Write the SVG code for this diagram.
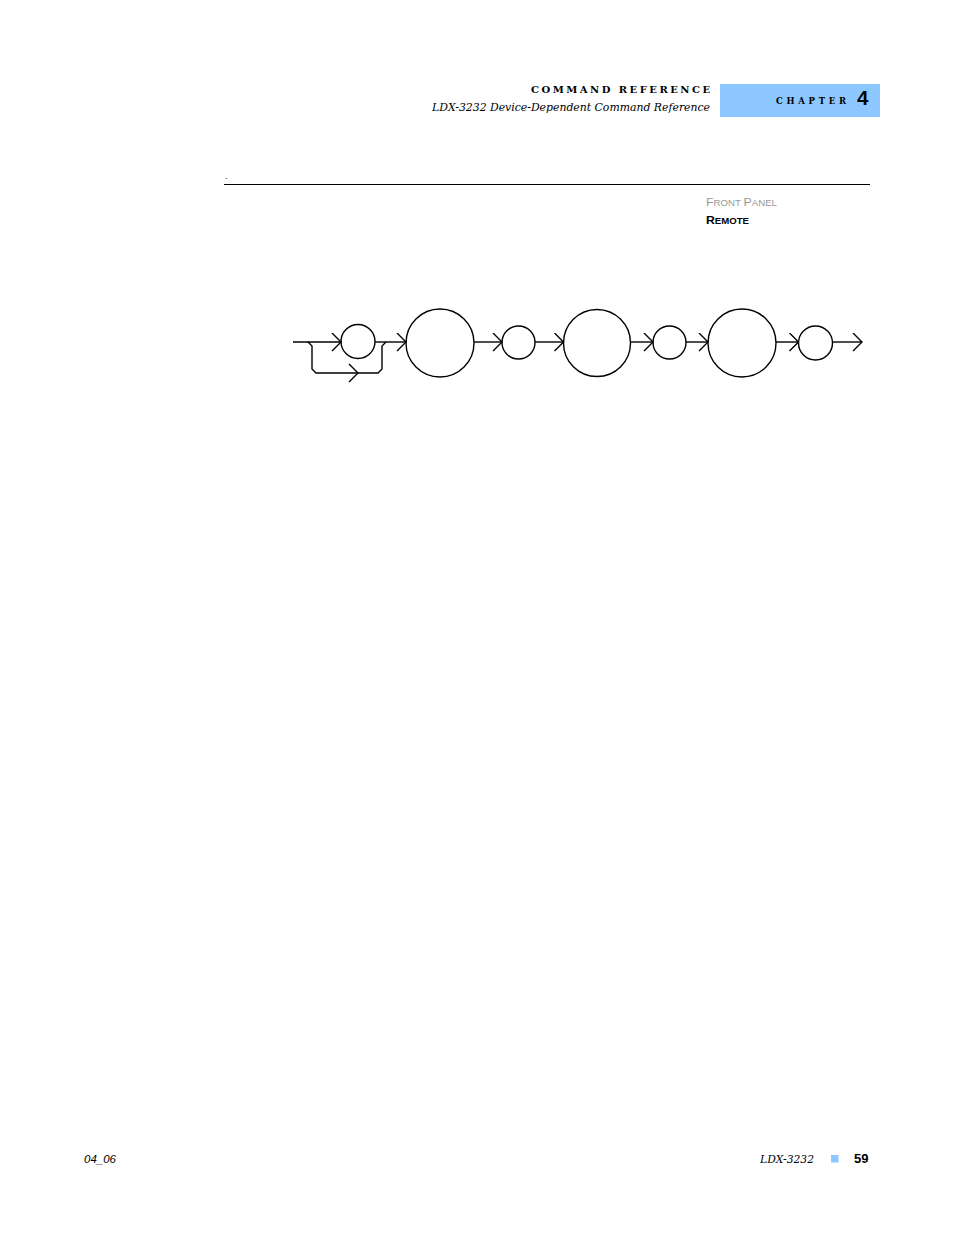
<svg xmlns="http://www.w3.org/2000/svg" width="954" height="1235" viewBox="0 0 954 1235">
<style>
.node{fill:none;stroke:#000;stroke-width:1.4}
.conn{fill:none;stroke:#000;stroke-width:1.4}
.hd{font-family:"DejaVu Serif","Liberation Serif",serif;font-weight:bold}
.it{font-family:"DejaVu Serif","Liberation Serif",serif;font-style:italic}
.sc{font-family:"Liberation Sans",Arial,sans-serif}
</style>
<defs>
<marker id="arr" markerUnits="userSpaceOnUse" markerWidth="12" markerHeight="20" refX="10" refY="9.5" orient="auto" viewBox="0 0 12 20">
<path d="M1,0.5 L10,9.5 L1,18.5" fill="none" stroke="#000" stroke-width="1.4"/>
</marker>
</defs>
<rect width="954" height="1235" fill="#fff"/>
<!-- header -->
<text class="hd" x="531" y="93" font-size="10" textLength="179" lengthAdjust="spacing">COMMAND REFERENCE</text>
<text class="it" x="432" y="111" font-size="11.5" textLength="278" lengthAdjust="spacingAndGlyphs">LDX-3232 Device-Dependent Command Reference</text>
<rect x="720" y="84" width="160" height="33" fill="#8dc7ff"/>
<text class="hd" x="776" y="104" font-size="8.5" textLength="70" lengthAdjust="spacing">CHAPTER</text>
<text class="sc" x="857" y="104.5" font-size="20.5" font-weight="bold">4</text>
<text class="sc" x="225" y="179" font-size="9">.</text>
<line x1="224" y1="184.5" x2="870" y2="184.5" stroke="#000" stroke-width="1"/>
<text class="sc" x="706" y="206" fill="#999" font-size="11.5" textLength="71" lengthAdjust="spacingAndGlyphs">F<tspan font-size="9">RONT </tspan>P<tspan font-size="9">ANEL</tspan></text>
<text class="sc" x="706" y="224" fill="#000" font-size="11.5" font-weight="bold" textLength="43" lengthAdjust="spacingAndGlyphs">R<tspan font-size="9">EMOTE</tspan></text>
<!-- nodes -->
<g id="n1"><circle class="node" cx="358" cy="341.5" r="17"/></g>
<g id="n2"><circle class="node" cx="440" cy="343" r="34"/></g>
<g id="n3"><circle class="node" cx="518.5" cy="342.5" r="16.5"/></g>
<g id="n4"><circle class="node" cx="597" cy="343" r="33.5"/></g>
<g id="n5"><circle class="node" cx="669.5" cy="342.5" r="16.5"/></g>
<g id="n6"><circle class="node" cx="742" cy="343" r="34"/></g>
<g id="n7"><circle class="node" cx="815.5" cy="343" r="17"/></g>
<!-- connectors -->
<g id="connectors">
<line class="conn" x1="293" y1="342" x2="341" y2="342" marker-end="url(#arr)"/>
<path class="conn" d="M308,342 L312,346 L312,369 L316,373 L378,373 L382,369 L382,346 L386,342"/>
<path class="conn" d="M349,364 L358,373 L349,382"/>
<line class="conn" x1="375" y1="342" x2="406" y2="342" stroke-width="1.8" marker-end="url(#arr)"/>
<line class="conn" x1="474" y1="342" x2="502" y2="342" marker-end="url(#arr)"/>
<line class="conn" x1="535" y1="342" x2="563.5" y2="342" marker-end="url(#arr)"/>
<line class="conn" x1="630.5" y1="342" x2="653" y2="342" marker-end="url(#arr)"/>
<line class="conn" x1="686" y1="342" x2="708" y2="342" stroke-width="2.2" marker-end="url(#arr)"/>
<line class="conn" x1="776" y1="342" x2="798.5" y2="342" marker-end="url(#arr)"/>
<line class="conn" x1="832.5" y1="342" x2="862" y2="342" marker-end="url(#arr)"/>
</g>
<!-- footer -->
<text class="sc" x="84" y="1163" font-size="11.5" font-style="italic">04_06</text>
<text class="it" x="760" y="1163" font-size="11.5" textLength="54" lengthAdjust="spacingAndGlyphs">LDX-3232</text>
<rect x="831" y="1155" width="7.5" height="7.5" fill="#8dc7ff"/>
<text class="sc" x="854" y="1163" font-size="13" font-weight="bold">59</text>
</svg>
